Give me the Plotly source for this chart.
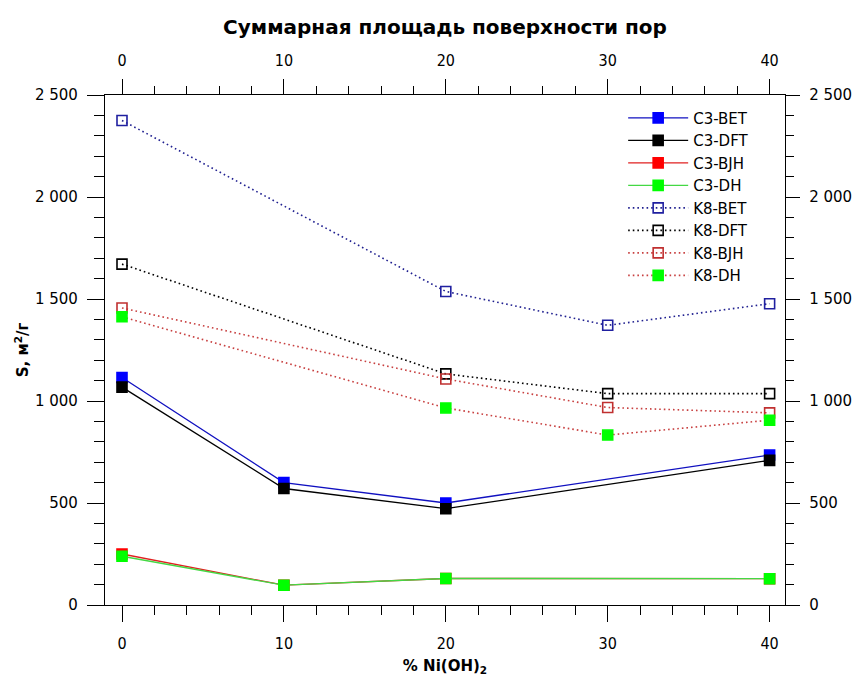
import plotly.graph_objects as go

# ---- data ----
x_c3 = [0, 10, 20, 40]
c3_bet = [1115, 600, 500, 735]
c3_dft = [1068, 571, 472, 709]
c3_bjh = [250, 97, 130, 129]
c3_dh = [239, 97, 130, 129]

x_k8 = [0, 20, 30, 40]
k8_bet = [2375, 1537, 1371, 1477]
k8_dft = [1671, 1133, 1036, 1036]
k8_bjh = [1456, 1108, 968, 942]
k8_dh = [1413, 966, 833, 906]

x_ticks = [0, 10, 20, 30, 40]
y_ticks = [0, 500, 1000, 1500, 2000, 2500]

title_text = "Суммарная площадь поверхности пор"
x_title = "% Ni(OH)<sub>2</sub>"
y_title = "S, м<sup>2</sup>/г"

FONT = "DejaVu Sans"
COND = "DejaVu Sans Condensed, DejaVu Sans"

fig = go.Figure()

def add(name, x, y, line_color, marker_color, symbol, dash, line_w=1.3):
    fig.add_trace(go.Scatter(
        x=x, y=y, name=name, mode="lines+markers",
        line=dict(color=line_color, width=line_w, dash=dash),
        marker=dict(symbol=symbol, size=10, color=marker_color,
                    line=dict(color=marker_color, width=1.6)),
    ))

DOT = "1.6px,3px"
add("C3-BET", x_c3, c3_bet, "#1010c0", "#0000ff", "square", "solid")
add("C3-DFT", x_c3, c3_dft, "#000000", "#000000", "square", "solid")
add("C3-BJH", x_c3, c3_bjh, "#e02020", "#ff0000", "square", "solid")
add("C3-DH", x_c3, c3_dh, "#44d844", "#00ff00", "square", "solid")
add("K8-BET", x_k8, k8_bet, "#202090", "#2020a0", "square-open", DOT, 1.6)
add("K8-DFT", x_k8, k8_dft, "#000000", "#000000", "square-open", DOT, 1.6)
add("K8-BJH", x_k8, k8_bjh, "#c84040", "#c03030", "square-open", DOT, 1.6)
add("K8-DH", x_k8, k8_dh, "#c84040", "#00ff00", "square", DOT, 1.6)

# invisible trace to activate secondary axes
fig.add_trace(go.Scatter(x=[0], y=[0], xaxis="x2", yaxis="y2", mode="markers",
                         marker=dict(opacity=0), showlegend=False, hoverinfo="skip"))

xr = [-1.05, 40.95]
yr = [0, 2500]

def xaxis_cfg(major, minor, standoff):
    return dict(range=xr, tickvals=x_ticks, ticks="outside", ticklen=major, tickwidth=1.3,
                tickcolor="black", showline=True, linecolor="black", linewidth=1.3,
                showgrid=False, zeroline=False, ticklabelstandoff=standoff,
                tickfont=dict(family=COND, size=16, color="black"),
                minor=dict(dtick=2, tick0=0, ticks="outside", ticklen=minor, tickwidth=1.3,
                           tickcolor="black", showgrid=False))

def yaxis_cfg(major, minor, standoff):
    return dict(range=yr, tickvals=y_ticks, ticks="outside", ticklen=major, tickwidth=1.3,
                tickcolor="black", showline=True, linecolor="black", linewidth=1.3,
                showgrid=False, zeroline=False, tickformat=",d", ticklabelstandoff=standoff,
                tickfont=dict(family=FONT, size=15, color="black"),
                minor=dict(dtick=100, tick0=0, ticks="outside", ticklen=minor, tickwidth=1.3,
                           tickcolor="black", showgrid=False))

fig.update_layout(
    width=864, height=684,
    margin=dict(l=105, r=69, t=95, b=74),
    paper_bgcolor="white", plot_bgcolor="white",
    separators=". ",
    xaxis=dict(**xaxis_cfg(16, 9, 8),
               title=dict(text=x_title, font=dict(family=FONT, size=15, color="black", weight="bold"),
                          standoff=8)),
    xaxis2=dict(**xaxis_cfg(15, 8, 6), overlaying="x", side="top", anchor="y"),
    yaxis=dict(**yaxis_cfg(17, 10, 6),
               title=dict(text=y_title, font=dict(family=FONT, size=15, color="black", weight="bold"),
                          standoff=2)),
    yaxis2=dict(**yaxis_cfg(14, 8, 6), overlaying="y", side="right", anchor="x"),
    title=dict(text=title_text, xref="paper", x=0.5, xanchor="center",
               yref="container", y=0.96, yanchor="middle",
               font=dict(family=FONT, size=20, color="black", weight="bold")),
    legend=dict(x=0.762, y=0.987, xanchor="left", yanchor="top",
                bgcolor="rgba(0,0,0,0)", borderwidth=0,
                font=dict(family=FONT, size=15, color="black"),
                tracegroupgap=0, itemwidth=60),
    showlegend=True,
)

fig.write_html("out.html", config={"displayModeBar": False},
               post_script="document.body.style.margin='0';document.body.style.overflow='hidden';")
